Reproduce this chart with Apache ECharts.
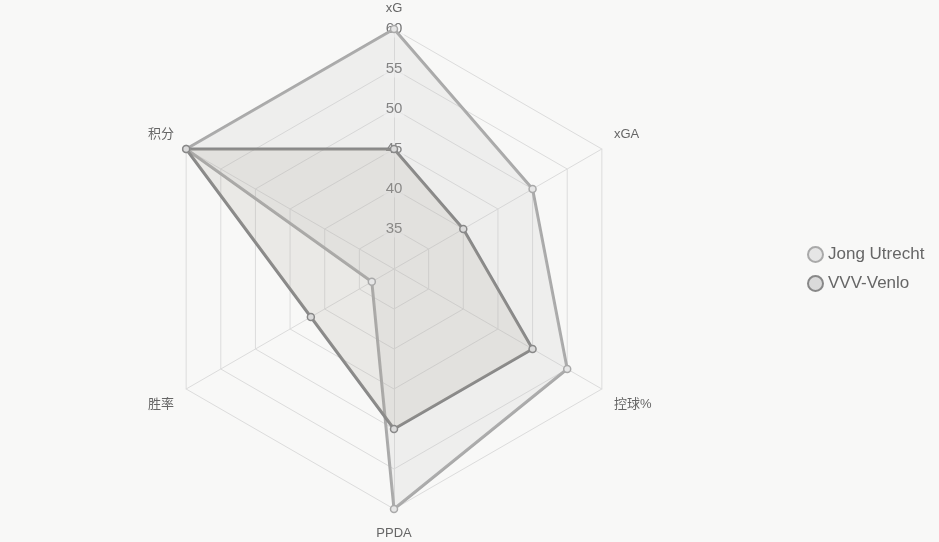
<!DOCTYPE html>
<html>
<head>
<meta charset="utf-8">
<script src="https://cdn.jsdelivr.net/npm/echarts@6/dist/echarts.min.js"></script>
<style>
  html, body { margin: 0; padding: 0; background: #f8f8f7; }
  #chart { width: 939px; height: 542px; }
</style>
</head>
<body>
<div id="chart"></div>
<script>
// indicators listed counter-clockwise from the top
const indicatorNames = ['xG', '积分', '胜率', 'PPDA', '控球%', 'xGA'];
const seriesNames = ['Jong Utrecht', 'VVV-Venlo'];
const jongUtrecht = [60, 60, 33.2, 60, 55, 50];
const vvvVenlo = [45, 60, 42, 50, 50, 40];
const axisMin = 30;
const axisMax = 60;

const upperNames = ['积分', 'xGA'];
const lowerNames = ['胜率', '控球%', 'PPDA'];

const chart = echarts.init(document.getElementById('chart'));

chart.setOption({
  backgroundColor: '#f8f8f7',
  legend: {
    orient: 'vertical',
    left: 802,
    top: 241,
    itemWidth: 15,
    itemHeight: 15,
    itemGap: 12,
    icon: 'circle',
    data: seriesNames,
    textStyle: { color: '#666', fontSize: 17, fontFamily: 'Arial, Liberation Sans, sans-serif' },
  },
  radar: {
    center: [394, 269],
    radius: 240,
    startAngle: 90,
    splitNumber: 6,
    shape: 'polygon',
    indicator: indicatorNames.map((name, i) => ({
      name: name,
      min: axisMin,
      max: axisMax,
      axisLabel: i === 0 ? {
        show: true,
        showMinLabel: false,
        color: '#777',
        fontSize: 15,
        align: 'center',
        verticalAlign: 'middle',
        margin: 0,
        backgroundColor: 'rgba(250,250,250,0.6)',
        padding: [1, 2],
      } : undefined,
    })),
    axisName: {
      color: '#666',
      fontSize: 13,
      fontFamily: 'Arial, Liberation Sans, Noto Sans CJK SC, sans-serif',
      formatter: (name) => {
        if (upperNames.includes(name)) return '{up|' + name + '}';
        if (name === 'PPDA') return '{bottom|' + name + '}';
        if (lowerNames.includes(name)) return '{down|' + name + '}';
        return name;
      },
      rich: {
        up: { padding: [0, 0, 16, 0], color: '#666', fontSize: 13 },
        down: { padding: [16, 0, 0, 0], color: '#666', fontSize: 13 },
        bottom: { padding: [4, 0, 0, 0], color: '#666', fontSize: 13 },
      },
    },
    nameGap: 14,
    axisLine: { lineStyle: { color: '#dcdcdc' } },
    splitLine: { lineStyle: { color: '#dcdcdc' } },
    splitArea: { show: false },
    axisLabel: { show: false },
  },
  series: [
    {
      type: 'radar',
      symbol: 'circle',
      symbolSize: 7,
      data: [
        {
          name: seriesNames[0],
          value: jongUtrecht,
          lineStyle: { color: '#a9a9a9', width: 3 },
          itemStyle: { color: '#e6e6e6', borderColor: '#a9a9a9', borderWidth: 1.5 },
          areaStyle: { color: 'rgba(190,190,190,0.25)' },
        },
        {
          name: seriesNames[1],
          value: vvvVenlo,
          lineStyle: { color: '#888', width: 3 },
          itemStyle: { color: '#dadada', borderColor: '#888', borderWidth: 1.5 },
          areaStyle: { color: 'rgba(170,165,155,0.25)' },
        },
      ],
    },
  ],
});
</script>
</body>
</html>
